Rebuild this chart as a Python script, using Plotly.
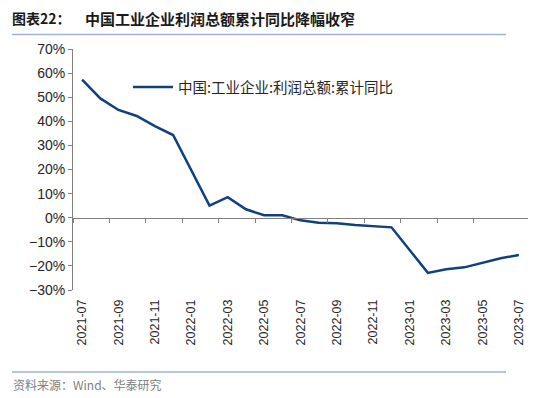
import plotly.graph_objects as go

# ---- data ----
months_all = ['2021-07', '2021-08', '2021-09', '2021-10', '2021-11', '2021-12',
              '2022-01', '2022-02', '2022-03', '2022-04', '2022-05', '2022-06',
              '2022-07', '2022-08', '2022-09', '2022-10', '2022-11', '2022-12',
              '2023-01', '2023-02', '2023-03', '2023-04', '2023-05', '2023-06',
              '2023-07']
data_months = ['2021-07', '2021-08', '2021-09', '2021-10', '2021-11', '2021-12',
               '2022-02', '2022-03', '2022-04', '2022-05', '2022-06',
               '2022-07', '2022-08', '2022-09', '2022-10', '2022-11', '2022-12',
               '2023-02', '2023-03', '2023-04', '2023-05', '2023-06', '2023-07']
profit_yoy = [57.3, 49.5, 44.7, 42.2, 38.0, 34.3,
              5.0, 8.5, 3.5, 1.0, 1.0,
              -1.1, -2.1, -2.3, -3.0, -3.6, -4.0,
              -22.9, -21.4, -20.6, -18.8, -16.8, -15.5]
series_name = '中国:工业企业:利润总额:累计同比'
tick_labels = months_all[::2]

title_prefix = '图表22：'
title_text = '中国工业企业利润总额累计同比降幅收窄'
source_text = '资料来源：Wind、华泰研究'

# ---- geometry: page has an 8px body margin, so the figure is 8px smaller ----
OFF = 8
W, H = 550 - OFF, 398 - OFF
# plot area in window pixels: x 73..528, y 49..290
L, R, T, B = 73 - OFF, 550 - 528, 49 - OFF, 398 - 290
pw, ph = W - L - R, H - T - B


def px_x(x):  # window pixel -> paper
    return (x - OFF - L) / pw


def px_y(y):
    return (H - B - (y - OFF)) / ph


x_idx = [months_all.index(m) for m in data_months]
ymin, ymax = -30, 70
n = len(months_all)

axis_color = '#808080'
text_color = '#262626'
line_color = '#12407E'
font_fam = 'Liberation Sans, Arial, sans-serif'
cjk_fam = 'Noto Sans CJK SC, sans-serif'

fig = go.Figure()
fig.add_trace(go.Scatter(
    x=x_idx, y=profit_yoy, mode='lines', name=series_name,
    line=dict(color=line_color, width=2.5), xaxis='x', yaxis='y'))
# carrier for the zero-line tick axis (draws nothing)
fig.add_trace(go.Scatter(
    x=x_idx, y=profit_yoy, mode='none', showlegend=False, hoverinfo='skip',
    xaxis='x2', yaxis='y'))

fig.update_layout(
    width=W, height=H,
    margin=dict(l=L, r=R, t=T, b=B),
    paper_bgcolor='white', plot_bgcolor='white',
    font=dict(family=font_fam, color=text_color),
    showlegend=True,
    legend=dict(x=px_x(128), y=px_y(87), xanchor='left', yanchor='middle',
                bgcolor='rgba(0,0,0,0)', itemwidth=40,
                font=dict(family=cjk_fam, size=14.5, color=text_color)),
    xaxis=dict(
        range=[-0.5, n - 0.5], tickvals=list(range(0, n, 2)), ticktext=tick_labels,
        tickangle=-90, ticks='', showline=False, showgrid=False, zeroline=False,
        tickfont=dict(family=font_fam, size=12.5, color=text_color),
        ticklabelstandoff=6),
    xaxis2=dict(
        overlaying='x', anchor='free', position=(0 - ymin) / (ymax - ymin),
        side='bottom', range=[-0.5, n - 0.5],
        tickvals=[i - 0.5 for i in range(0, n - 1, 2)],
        ticks='outside', ticklen=4, tickcolor=axis_color, tickwidth=1,
        showticklabels=False, showline=True, linecolor=axis_color, linewidth=1,
        showgrid=False, zeroline=False),
    yaxis=dict(
        range=[ymin, ymax], dtick=10, ticksuffix='%',
        ticks='outside', ticklen=4, tickcolor=axis_color,
        showline=True, linecolor=axis_color, linewidth=1,
        showgrid=False, zeroline=False,
        tickfont=dict(family=font_fam, size=14, color=text_color)),
)

# title
fig.add_annotation(xref='paper', yref='paper', x=px_x(11), y=px_y(18),
                   xanchor='left', yanchor='middle', showarrow=False,
                   borderpad=0,
                   text='<b>' + title_prefix + '</b>',
                   font=dict(family=cjk_fam, size=14, color='#1a1a1a'))
fig.add_annotation(xref='paper', yref='paper', x=px_x(84), y=px_y(18),
                   xanchor='left', yanchor='middle', showarrow=False,
                   borderpad=0,
                   text='<b>' + title_text + '</b>',
                   font=dict(family=cjk_fam, size=15, color='#1a1a1a'))
# source
fig.add_annotation(xref='paper', yref='paper', x=px_x(11), y=px_y(384),
                   xanchor='left', yanchor='middle', showarrow=False,
                   text=source_text,
                   font=dict(family=cjk_fam, size=12, color='#808080'))
# separator lines
for yy in (34.5, 372):
    fig.add_shape(type='line', xref='paper', yref='paper',
                  x0=px_x(12), x1=px_x(506), y0=px_y(yy), y1=px_y(yy),
                  line=dict(color='#9DB3CE', width=1.5))

fig.write_html('out.html')
